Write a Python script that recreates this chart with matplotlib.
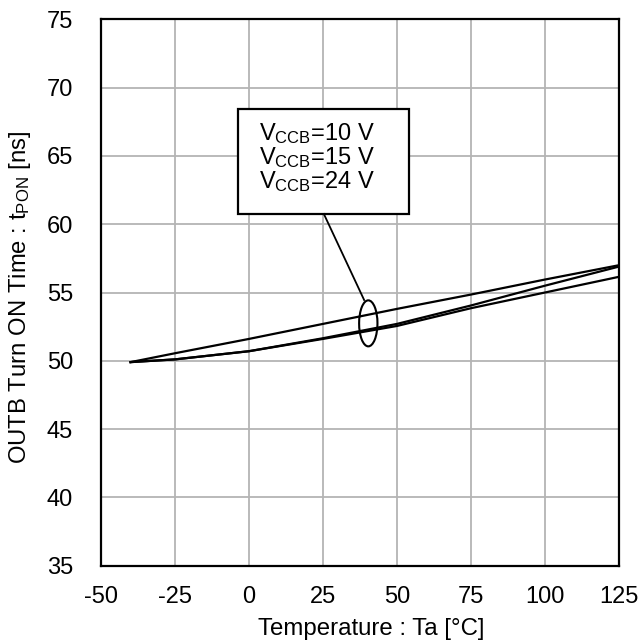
import matplotlib
matplotlib.use('Agg')
import matplotlib.pyplot as plt
from matplotlib.patches import Ellipse, Rectangle

plt.rcParams['font.family'] = ['Liberation Sans', 'DejaVu Sans']
plt.rcParams['mathtext.default'] = 'regular'
plt.rcParams['axes.unicode_minus'] = False

# Ta [°C]
temp = [-40, -25, 0, 25, 50, 75, 100, 125]
# tPON [ns] for the three supply voltages
tpon_a = [49.9, 50.55, 51.6, 52.7, 53.8, 54.85, 55.95, 57.0]
tpon_b = [49.9, 50.1, 50.7, 51.65, 52.7, 54.05, 55.5, 56.9]
tpon_c = [49.9, 50.1, 50.7, 51.6, 52.55, 53.85, 55.0, 56.15]

labels = ['V$_{CCB}$=10 V', 'V$_{CCB}$=15 V', 'V$_{CCB}$=24 V']
xticks = [-50, -25, 0, 25, 50, 75, 100, 125]
yticks = [35, 40, 45, 50, 55, 60, 65, 70, 75]

fig = plt.figure(figsize=(6.42, 6.43), dpi=100)
ax = fig.add_axes([0.1573, 0.1205, 0.8069, 0.8492])

for y in (tpon_a, tpon_b, tpon_c):
    ax.plot(temp, y, color='black', lw=1.6, zorder=3)

ax.set_xlim(-50, 125)
ax.set_ylim(35, 75)
ax.set_xticks(xticks)
ax.set_yticks(yticks)
ax.grid(True, color='#b4b4b4', lw=1.3)
ax.tick_params(length=0, labelsize=17)
ax.tick_params(axis='x', pad=15)
ax.tick_params(axis='y', pad=20)
for s in ax.spines.values():
    s.set_linewidth(1.6)

# annotation box
ax.add_patch(Rectangle((-3.7, 60.75), 57.75, 7.72, facecolor='white',
                       edgecolor='black', lw=1.6, zorder=4))
for i, lab in enumerate(labels):
    ax.text(3.4, 66.65 - i * 1.75, lab, fontsize=17, va='center', ha='left', zorder=5)
ax.plot([25.3, 38.9], [60.75, 54.45], color='black', lw=1.3, zorder=4)
ax.add_patch(Ellipse((40.3, 52.74), 6.2, 3.37, fill=False, edgecolor='black',
                     lw=1.5, zorder=4))

fig.text(371 / 642, 1 - 629 / 643, 'Temperature : Ta [°C]', fontsize=17.3,
         ha='center', va='center')
fig.text(20 / 642, 1 - 297.5 / 643, 'OUTB Turn ON Time : t$_{PON}$ [ns]',
         fontsize=17.2, ha='center', va='center', rotation=90)

fig.savefig('out.png', dpi=100)
